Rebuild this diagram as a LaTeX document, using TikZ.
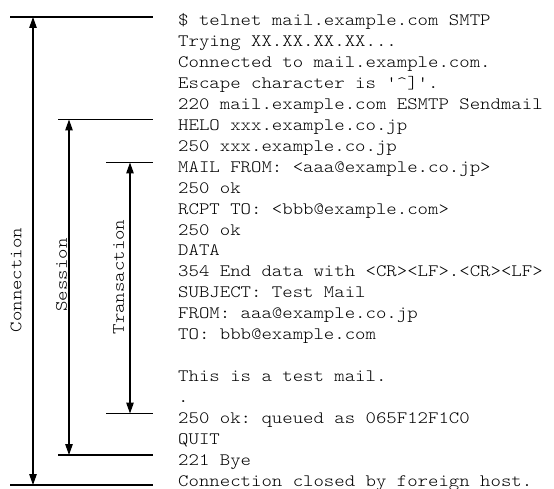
\documentclass[tikz,border=0pt]{standalone}
\usepackage{fontspec}
\usetikzlibrary{arrows.meta}
\newfontfamily\smtpfont{lmmonolt10-regular.otf}[FakeStretch=1.14]

\begin{document}
\begin{tikzpicture}[x=1pt, y=-1pt,
    msg/.style={anchor=base west, inner sep=0pt, font=\smtpfont\fontsize{17.4}{21}\selectfont\frenchspacing},
    rule/.style={line width=1.3pt},
    span/.style={line width=1.2pt, {Triangle[length=11pt,width=7.5pt]}-{Triangle[length=11pt,width=7.5pt]}},
    spanlabel/.style={rotate=90, inner sep=0pt, font=\smtpfont\fontsize{17.4}{21}\selectfont}
  ]
  \useasboundingbox (0,0) rectangle (554,489);

  % the telnet transcript, one node per line
  \node[msg] (l1)  at (178,25.5)   {\$ telnet mail.example.com SMTP};
  \node[msg] (l2)  at (178,46.45)  {Trying XX.XX.XX.XX...};
  \node[msg] (l3)  at (178,67.4)   {Connected to mail.example.com.};
  \node[msg] (l4)  at (178,88.35)  {Escape character is '\textasciicircum]'.};
  \node[msg] (l5)  at (178,109.3)  {220 mail.example.com ESMTP Sendmail};
  \node[msg] (l6)  at (178,130.25) {HELO xxx.example.co.jp};
  \node[msg] (l7)  at (178,151.2)  {250 xxx.example.co.jp};
  \node[msg] (l8)  at (178,172.15) {MAIL FROM: <aaa@example.co.jp>};
  \node[msg] (l9)  at (178,193.1)  {250 ok};
  \node[msg] (l10) at (178,214.05) {RCPT TO: <bbb@example.com>};
  \node[msg] (l11) at (178,235)    {250 ok};
  \node[msg] (l12) at (178,255.95) {DATA};
  \node[msg] (l13) at (178,276.9)  {354 End data with <CR><LF>.<CR><LF>};
  \node[msg] (l14) at (178,297.85) {SUBJECT: Test Mail};
  \node[msg] (l15) at (178,318.8)  {FROM: aaa@example.co.jp};
  \node[msg] (l16) at (178,339.75) {TO: bbb@example.com};
  \node[msg] (l18) at (178,381.65) {This is a test mail.};
  \node[msg] (l19) at (178,402.6)  {.};
  \node[msg] (l20) at (178,423.55) {250 ok: queued as 065F12F1C0};
  \node[msg] (l21) at (178,444.5)  {QUIT};
  \node[msg] (l22) at (178,465.45) {221 Bye};
  \node[msg] (l23) at (178,486.4)  {Connection closed by foreign host.};

  % rule ends
  \coordinate (connTop) at (33,17);
  \coordinate (connBot) at (33,485);
  \coordinate (sessTop) at (69,119.5);
  \coordinate (sessBot) at (69,455);
  \coordinate (tranTop) at (130,162.5);
  \coordinate (tranBot) at (130,413.5);

  \draw[rule] (10,17) -- (153,17);
  \draw[rule] (10,485) -- (153,485);
  \draw[rule] (58,119.5) -- (153,119.5);
  \draw[rule] (58,455) -- (153,455);
  \draw[rule] (106,162.5) -- (153,162.5);
  \draw[rule] (106,413.5) -- (153,413.5);

  % spans
  \draw[span] (connTop) -- (connBot);
  \draw[span] (sessTop) -- (sessBot);
  \draw[span] (tranTop) -- (tranBot);

  \node[spanlabel] (connLbl) at (16,280) {Connection};
  \node[spanlabel] (sessLbl) at (61.5,275) {Session};
  \node[spanlabel] (tranLbl) at (118.5,277) {Transaction};
\end{tikzpicture}
\end{document}
